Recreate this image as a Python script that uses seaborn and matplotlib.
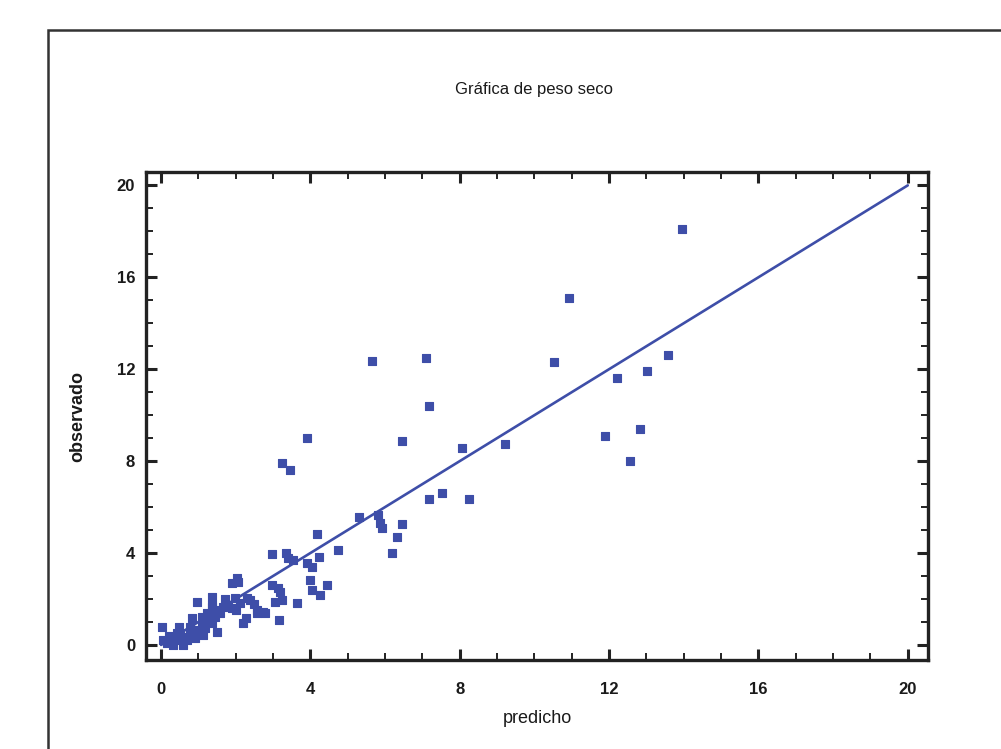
import matplotlib
matplotlib.use("Agg")
import matplotlib.pyplot as plt
import seaborn as sns
import pandas as pd
from matplotlib.patches import Rectangle
from matplotlib.ticker import MultipleLocator

sns.set_style("white")
plt.rcParams['font.family'] = ['Liberation Sans Narrow', 'Liberation Sans', 'DejaVu Sans']

# ---------------------
# Data
# ---------------------
predicho = [
    13.95, 10.93, 10.53, 13.57, 13.02, 12.21, 11.90, 12.82, 12.56,
    7.18, 5.65, 7.10, 3.90, 6.45, 8.05, 9.21, 3.23, 3.44,
    7.18, 7.53, 8.26, 5.30, 5.82, 5.86, 5.91, 6.45, 6.31, 6.19,
    4.17, 4.75, 2.96, 3.35, 3.41, 3.54, 3.90, 4.03, 4.24, 3.99, 4.03, 4.26, 4.44,
    3.63, 3.17, 2.96, 3.05, 3.19, 2.74, 2.56, 3.14, 3.23,
    0.02, 0.06, 0.15, 0.29, 0.42, 0.51, 0.60, 0.78, 0.78, 0.96, 1.09, 1.22, 1.18,
    1.36, 1.45, 1.49, 1.36, 1.58, 1.67, 1.80, 1.22, 1.49, 0.60, 0.33, 0.69, 0.42,
    1.13, 0.96, 1.36, 1.36, 0.82, 0.49, 1.89, 2.07, 2.03, 1.98, 2.12, 2.29, 2.38,
    2.56, 2.78, 2.20, 2.28, 1.90, 2.00, 1.70, 2.50, 1.10, 0.90, 0.20,
]
observado = [
    18.10, 15.10, 12.30, 12.60, 11.90, 11.60, 9.10, 9.40, 8.00,
    10.39, 12.35, 12.50, 8.99, 8.86, 8.58, 8.73, 7.90, 7.60,
    6.35, 6.62, 6.35, 5.55, 5.65, 5.29, 5.07, 5.25, 4.71, 3.99,
    4.83, 4.13, 3.96, 3.99, 3.77, 3.70, 3.58, 3.40, 3.84, 2.83, 2.39, 2.17, 2.61,
    1.81, 1.09, 2.61, 1.88, 2.32, 1.45, 1.52, 2.46, 1.96,
    0.80, 0.22, 0.07, 0.29, 0.22, 0.51, 0.36, 0.51, 0.80, 0.65, 0.87, 1.09, 0.73,
    0.94, 1.23, 1.52, 1.67, 1.38, 1.67, 1.74, 1.38, 0.58, 0.00, 0.00, 0.22, 0.51,
    0.43, 1.88, 2.10, 1.74, 1.16, 0.80, 2.68, 2.75, 2.90, 2.03, 1.81, 2.03, 1.96,
    1.38, 1.38, 0.94, 1.16, 1.60, 1.50, 2.00, 1.80, 1.20, 0.30, 0.40,
]
linea_x = [0, 20]
linea_y = [0, 20]

df = pd.DataFrame({'predicho': predicho, 'observado': observado})
color = '#3E4EA8'

# ---------------------
# Plot
# ---------------------
fig = plt.figure(figsize=(10.01, 7.49), dpi=100)
ax = fig.add_axes([0.146, 0.119, 0.781, 0.651])

sns.lineplot(x=linea_x, y=linea_y, ax=ax, color=color, linewidth=1.9)
sns.scatterplot(data=df, x='predicho', y='observado', ax=ax, marker='s',
                s=32, color=color, edgecolor=color, linewidth=0.8, zorder=3)

ax.set_xlim(-0.40, 20.54)
ax.set_ylim(-0.65, 20.57)
ax.xaxis.set_major_locator(MultipleLocator(4))
ax.xaxis.set_minor_locator(MultipleLocator(1))
ax.yaxis.set_major_locator(MultipleLocator(4))
ax.yaxis.set_minor_locator(MultipleLocator(1))
ax.tick_params(which='both', direction='in', top=True, right=True,
               bottom=True, left=True, color='#222222')
ax.tick_params(which='major', length=8, width=2.2, labelsize=12, pad=8)
ax.tick_params(which='minor', length=5, width=1.4)
ax.tick_params(axis='x', which='major', pad=16)
for lab in ax.get_xticklabels() + ax.get_yticklabels():
    lab.set_fontweight('bold')
    lab.set_color('#1a1a1a')
for sp in ax.spines.values():
    sp.set_linewidth(2.4)
    sp.set_color('#222222')

ax.set_xlabel('predicho', fontsize=13, labelpad=9, color='#1a1a1a')
ax.set_ylabel('observado', fontsize=13, fontweight='bold', labelpad=22, color='#1a1a1a')
fig.text(0.533, 0.88, 'Gráfica de peso seco', ha='center', va='center',
         fontsize=12, color='#1a1a1a')

# outer frame of the page
fig.patches.append(Rectangle((0.048, -0.05), 1.0, 1.01,
                             transform=fig.transFigure, fill=False,
                             edgecolor='#333333', linewidth=1.8))

fig.savefig('out.png', dpi=100)
